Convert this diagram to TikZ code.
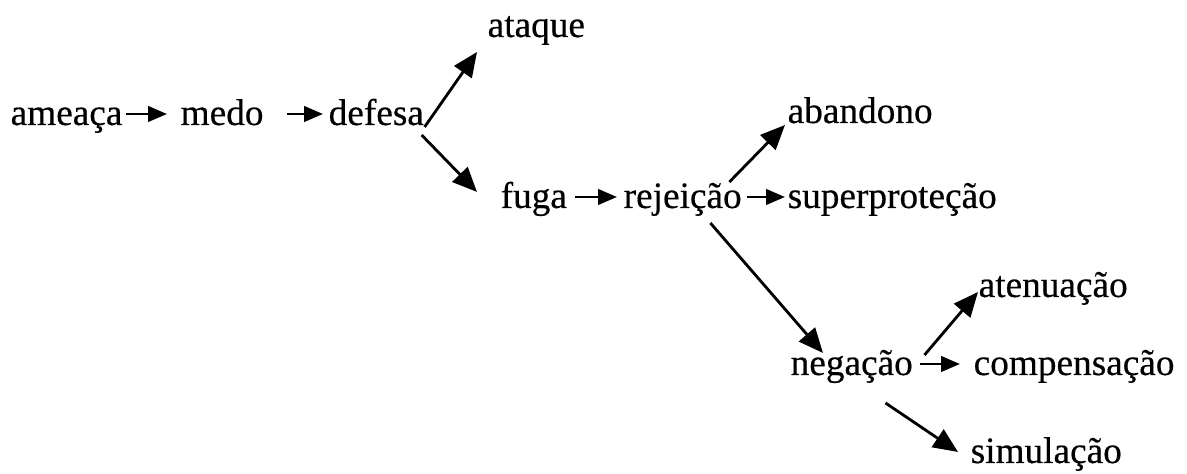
\documentclass[tikz,border=0pt]{standalone}
\usepackage{fontspec}
\setmainfont{Liberation Serif}[FakeBold=0.4]
\usetikzlibrary{arrows.meta,calc}
\tikzset{
  word/.style={anchor=base west, inner sep=0pt, font=\fontsize{10.6}{12}\selectfont},
  harr/.style={line width=0.8pt, -{Triangle[length=5.4pt,width=4.4pt]}},
  darr/.style={line width=0.8pt, -{Triangle[length=7pt,width=6pt]}}
}
\begin{document}
\begin{tikzpicture}[x=0.01cm,y=-0.01cm]
\useasboundingbox (0,0) rectangle (1187,474);
\node[word] (ameaca) at (10,125) {ameaça};
\node[word] (medo) at (180,125) {medo};
\node[word] (defesa) at (328,125) {defesa};
\node[word] (ataque) at (487,37) {ataque};
\node[word] (fuga) at (500,208) {fuga};
\node[word] (rejeicao) at (623,208) {rejeição};
\node[word] (superprotecao) at (787,208) {superproteção};
\node[word] (abandono) at (787,123) {abandono};
\node[word] (negacao) at (790,375) {negação};
\node[word] (compensacao) at (973,375) {compensação};
\node[word] (atenuacao) at (978,297) {atenuação};
\node[word] (simulacao) at (970,463) {simulação};
% horizontal arrows
\draw[harr] ($(ameaca.base east)+(3,-11)$) -- ($(medo.base west)+(-13,-11)$);
\draw[harr] ($(medo.base east)+(23,-11)$) -- ($(defesa.base west)+(-5,-11)$);
\draw[harr] ($(fuga.base east)+(7,-11)$) -- ($(rejeicao.base west)+(-6,-11)$);
\draw[harr] ($(rejeicao.base east)+(5,-11)$) -- ($(superprotecao.base west)+(-2,-11)$);
\draw[harr] ($(negacao.base east)+(6,-11)$) -- ($(compensacao.base west)+(-13,-11)$);
% diagonal arrows
\draw[darr] ($(defesa.base east)+(0,2)$) -- ($(ataque.base west)+(-10,15)$);
\draw[darr] ($(defesa.base east)+(-3,10)$) -- ($(fuga.base west)+(-23,-16)$);
\draw[darr] ($(rejeicao.base east)+(-13,-26)$) -- ($(abandono.base west)+(-2,2)$);
\draw[darr] ($(rejeicao.base east)+(-32,15)$) -- ($(negacao.base west)+(33,-22)$);
\draw[darr] ($(negacao.base east)+(11,-20)$) -- ($(atenuacao.base west)+(0,-5)$);
\draw[darr] ($(negacao.base east)+(-28,28)$) -- ($(simulacao.base west)+(-12,-11)$);
\end{tikzpicture}
\end{document}
